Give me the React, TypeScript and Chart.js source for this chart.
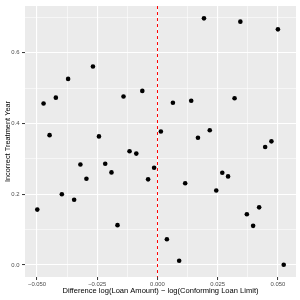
import React, { useEffect, useRef } from "react";
import { Chart, registerables } from "chart.js";
Chart.register(...registerables);

const xValues = [
  -0.0499, -0.0473, -0.0448, -0.0422, -0.0397, -0.0371, -0.0346, -0.032, -0.0295, -0.0268,
  -0.0243, -0.0217, -0.0191, -0.0166, -0.0141, -0.0116, -0.0088, -0.0063, -0.0039, -0.0014,
  0.0014, 0.0039, 0.0064, 0.009, 0.0115, 0.014, 0.0168, 0.0193, 0.0217, 0.0244,
  0.0269, 0.0293, 0.032, 0.0344, 0.0371, 0.0397, 0.0422, 0.0447, 0.0473, 0.05, 0.0524,
];
const yValues = [
  0.1566, 0.4565, 0.367, 0.473, 0.2, 0.526, 0.1845, 0.284, 0.244, 0.561,
  0.3634, 0.286, 0.2617, 0.1127, 0.476, 0.3215, 0.3148, 0.492, 0.2421, 0.2748,
  0.3774, 0.0727, 0.4585, 0.012, 0.2309, 0.464, 0.3595, 0.697, 0.381, 0.2105,
  0.2608, 0.2505, 0.4713, 0.6877, 0.1434, 0.1107, 0.163, 0.3335, 0.3495, 0.666, 0.001,
];

const xMajorTicks = [-0.05, -0.025, 0, 0.025, 0.05];
const xMajorLabels = ["\u22120.050", "\u22120.025", "0.000", "0.025", "0.050"];
const xMinorTicks = [-0.0375, -0.0125, 0.0125, 0.0375];
const yMajorTicks = [0, 0.2, 0.4, 0.6];
const yMajorLabels = ["0.0", "0.2", "0.4", "0.6"];
const yMinorTicks = [0.1, 0.3, 0.5, 0.7];
const xLimits = [-0.055, 0.0575];
const yLimits = [-0.0338, 0.7318];
const vlineX = 0;

const xTitle = "Difference log(Loan Amount) \u2212 log(Conforming Loan Limit)";
const yTitle = "Incorrect Treatment Year";

const FONT = "'Liberation Sans', Arial, sans-serif";

function majorIndex(list: number[], v: number) {
  return list.findIndex((t) => Math.abs(t - v) < 1e-9);
}

export default function App() {
  const ref = useRef<HTMLCanvasElement | null>(null);

  useEffect(() => {
    if (!ref.current) return;

    const bgPlugin = {
      id: "panelBg",
      beforeDraw(chart: any) {
        const { ctx, chartArea } = chart;
        ctx.save();
        ctx.fillStyle = "#FFFFFF";
        ctx.fillRect(0, 0, chart.width, chart.height);
        ctx.fillStyle = "#EBEBEB";
        ctx.fillRect(chartArea.left, chartArea.top, chartArea.right - chartArea.left, chartArea.bottom - chartArea.top);
        ctx.restore();
      },
    };

    const vlinePlugin = {
      id: "vline",
      afterDatasetsDraw(chart: any) {
        const { ctx, chartArea, scales } = chart;
        const px = scales.x.getPixelForValue(vlineX);
        ctx.save();
        ctx.strokeStyle = "#FF0000";
        ctx.lineWidth = 1;
        ctx.setLineDash([3, 3]);
        ctx.beginPath();
        ctx.moveTo(px, chartArea.top);
        ctx.lineTo(px, chartArea.bottom);
        ctx.stroke();
        ctx.restore();
      },
    };

    const makeGrid = (major: number[]) => ({
      color: "#FFFFFF",
      lineWidth: (c: any) => (c.tick && majorIndex(major, c.tick.value) >= 0 ? 1.1 : 0.55),
      drawTicks: true,
      tickLength: 3,
      tickWidth: 1,
      tickColor: (c: any) => (c.tick && majorIndex(major, c.tick.value) >= 0 ? "#333333" : "rgba(0,0,0,0)"),
    });

    const chart = new Chart(ref.current, {
      type: "scatter",
      data: {
        datasets: [
          {
            data: xValues.map((x, i) => ({ x, y: yValues[i] })),
            backgroundColor: "#000000",
            borderWidth: 0,
            pointRadius: 2.3,
          },
        ],
      },
      options: {
        animation: false,
        responsive: false,
        devicePixelRatio: 1,
        layout: { padding: { top: 3.5, right: 4, left: 0, bottom: 0 } },
        plugins: { legend: { display: false }, tooltip: { enabled: false } },
        scales: {
          x: {
            type: "linear",
            min: xLimits[0],
            max: xLimits[1],
            border: { display: false },
            grid: makeGrid(xMajorTicks) as any,
            afterBuildTicks: (scale: any) => {
              scale.ticks = [...xMajorTicks, ...xMinorTicks].sort((a, b) => a - b).map((v) => ({ value: v }));
            },
            afterFit: (scale: any) => {
              scale.height = 23;
            },
            ticks: {
              autoSkip: false,
              maxRotation: 0,
              padding: 1,
              color: "#4D4D4D",
              font: { family: FONT, size: 5.9 },
              callback: (v: any) => {
                const i = majorIndex(xMajorTicks, Number(v));
                return i >= 0 ? xMajorLabels[i] : "";
              },
            },
            title: {
              display: true,
              text: xTitle,
              color: "#000000",
              font: { family: FONT, size: 7.55 },
              padding: { top: 0, bottom: 4.3 },
            },
          },
          y: {
            type: "linear",
            min: yLimits[0],
            max: yLimits[1],
            border: { display: false },
            grid: makeGrid(yMajorTicks) as any,
            afterBuildTicks: (scale: any) => {
              scale.ticks = [...yMajorTicks, ...yMinorTicks].sort((a, b) => a - b).map((v) => ({ value: v }));
            },
            afterFit: (scale: any) => {
              scale.width = 25;
            },
            ticks: {
              autoSkip: false,
              padding: 2.5,
              color: "#4D4D4D",
              font: { family: FONT, size: 5.9 },
              callback: (v: any) => {
                const i = majorIndex(yMajorTicks, Number(v));
                return i >= 0 ? yMajorLabels[i] : "";
              },
            },
            title: {
              display: true,
              text: yTitle,
              color: "#000000",
              font: { family: FONT, size: 7.4 },
              padding: { top: 3.1, bottom: 0 },
            },
          },
        },
      },
      plugins: [bgPlugin, vlinePlugin],
    } as any);

    return () => chart.destroy();
  }, []);

  return (
    <div style={{ position: "fixed", left: 0, top: 0, width: 300, height: 300, background: "#fff" }}>
      <canvas ref={ref} width={300} height={300} style={{ display: "block", width: 300, height: 300 }} />
    </div>
  );
}
